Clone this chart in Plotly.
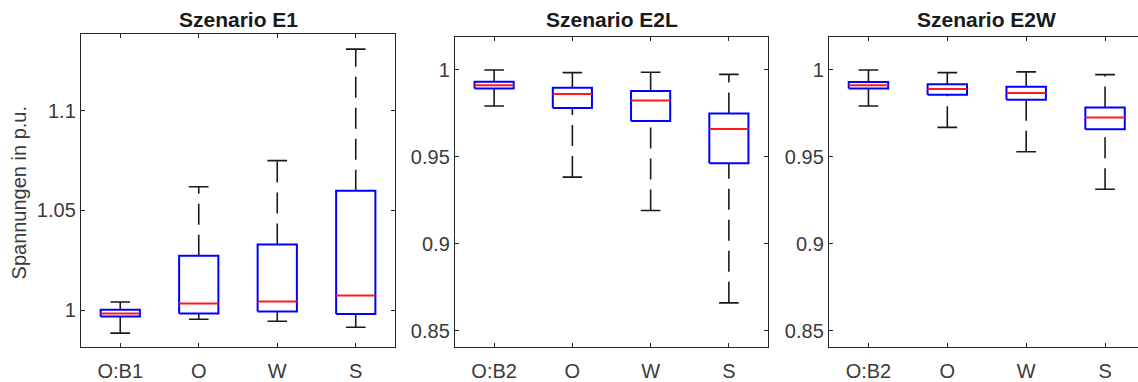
import plotly.graph_objects as go

# ---------------- data ----------------
categories_e1 = ["O:B1", "O", "W", "S"]
categories_e2 = ["O:B2", "O", "W", "S"]

e1_lower = [0.9884, 0.9954, 0.9944, 0.9914]
e1_q1 = [0.9968, 0.9983, 0.9993, 0.9980]
e1_median = [0.9983, 1.0033, 1.0043, 1.0073]
e1_q3 = [1.0002, 1.0272, 1.0328, 1.0598]
e1_upper = [1.0040, 1.0618, 1.0749, 1.1308]

e2l_lower = [0.9793, 0.9384, 0.9192, 0.8661]
e2l_q1 = [0.9894, 0.9782, 0.9706, 0.9463]
e2l_median = [0.9912, 0.9862, 0.9824, 0.9660]
e2l_q3 = [0.9932, 0.9898, 0.9879, 0.9750]
e2l_upper = [1.0000, 0.9985, 0.9987, 0.9975]

e2w_lower = [0.9793, 0.9670, 0.9530, 0.9314]
e2w_q1 = [0.9894, 0.9858, 0.9829, 0.9659]
e2w_median = [0.9912, 0.9890, 0.9867, 0.9727]
e2w_q3 = [0.9931, 0.9918, 0.9903, 0.9784]
e2w_upper = [1.0000, 0.9985, 0.9989, 0.9973]

titles = ["Szenario E1", "Szenario E2L", "Szenario E2W"]
y_label = "Spannungen in p.u."
e1_yticks = [1.0, 1.05, 1.1]
e1_yticktext = ["1", "1.05", "1.1"]
e2_yticks = [0.85, 0.9, 0.95, 1.0]
e2_yticktext = ["0.85", "0.9", "0.95", "1"]

# ---------------- style ----------------
FONT = "Liberation Sans, Arial, Helvetica, sans-serif"
AX = "#262626"
TXT = "#3a3a3a"
BOX_HALF = 0.25
CAP_HALF = 0.125
DASH = "21px,10px"

W, H = 1138, 382


def px_x(p):
    return p / W


def px_y(p):
    return 1 - p / H


panels = [
    dict(cats=categories_e1, lo=e1_lower, q1=e1_q1, med=e1_median, q3=e1_q3, up=e1_upper,
         dom_x=(81, 395), dom_y=(34.5, 350.5), xr=(0.5, 4.5), yr=(0.98155, 1.1383),
         yt=e1_yticks, ytt=e1_yticktext, mirror_y="ticks"),
    dict(cats=categories_e2, lo=e2l_lower, q1=e2l_q1, med=e2l_median, q3=e2l_q3, up=e2l_upper,
         dom_x=(455, 768), dom_y=(37.5, 350.5), xr=(0.5, 4.5), yr=(0.8408, 1.0189),
         yt=e2_yticks, ytt=e2_yticktext, mirror_y="ticks"),
    dict(cats=categories_e2, lo=e2w_lower, q1=e2w_q1, med=e2w_median, q3=e2w_q3, up=e2w_upper,
         dom_x=(829, 1138), dom_y=(37.5, 350.5), xr=(0.5, 4.5 - 6.5 / 79.0), yr=(0.8408, 1.0189),
         yt=e2_yticks, ytt=e2_yticktext, mirror_y=False),
]

fig = go.Figure()
layout = dict(
    width=W, height=H, margin=dict(l=0, r=0, t=0, b=0),
    paper_bgcolor="white", plot_bgcolor="white", showlegend=False,
    font=dict(family=FONT, size=20, color=TXT),
)
annotations = []

for k, p in enumerate(panels):
    n = "" if k == 0 else str(k + 1)
    xa, ya = "x" + n, "y" + n
    wx, wy, bx, by, mx, my, cx, cy = [], [], [], [], [], [], [], []
    wlx, wly = [], []
    for i in range(len(p["cats"])):
        c = i + 1
        # upper whisker from q3 upward, lower whisker from lower end upward
        wx += [c, c, None]
        wy += [p["q3"][i], p["up"][i], None]
        wlx += [c, c, None]
        wly += [p["lo"][i], p["q1"][i], None]
        cx += [c - CAP_HALF, c + CAP_HALF, None, c - CAP_HALF, c + CAP_HALF, None]
        cy += [p["up"][i], p["up"][i], None, p["lo"][i], p["lo"][i], None]
        bx += [c - BOX_HALF, c + BOX_HALF, c + BOX_HALF, c - BOX_HALF, c - BOX_HALF, None]
        by += [p["q1"][i], p["q1"][i], p["q3"][i], p["q3"][i], p["q1"][i], None]
        mx += [c - BOX_HALF, c + BOX_HALF, None]
        my += [p["med"][i], p["med"][i], None]
    common = dict(xaxis=xa, yaxis=ya, mode="lines", hoverinfo="skip")
    fig.add_trace(go.Scatter(x=wx, y=wy, line=dict(color="#1a1a1a", width=1.6, dash=DASH), **common))
    fig.add_trace(go.Scatter(x=wlx, y=wly, line=dict(color="#1a1a1a", width=1.6, dash=DASH), **common))
    fig.add_trace(go.Scatter(x=cx, y=cy, line=dict(color="#1a1a1a", width=1.6), **common))
    fig.add_trace(go.Scatter(x=bx, y=by, line=dict(color="#0000ff", width=2), **common))
    fig.add_trace(go.Scatter(x=mx, y=my, line=dict(color="#ff1a1a", width=2), **common))

    xkey = "xaxis" + n
    ykey = "yaxis" + n
    layout[xkey] = dict(
        domain=[px_x(p["dom_x"][0]), px_x(p["dom_x"][1])], anchor=ya, range=list(p["xr"]),
        tickvals=[1, 2, 3, 4], ticktext=p["cats"], ticks="inside", ticklen=4, tickwidth=1,
        tickcolor=AX, showline=True, linecolor=AX, linewidth=1.4, mirror="ticks",
        showgrid=False, zeroline=False, tickfont=dict(size=20, color=TXT, family=FONT),
        ticklabelstandoff=6,
    )
    layout[ykey] = dict(
        domain=[px_y(p["dom_y"][1]), px_y(p["dom_y"][0])], anchor=xa, range=list(p["yr"]),
        tickvals=p["yt"], ticktext=p["ytt"], ticks="inside", ticklen=4, tickwidth=1,
        tickcolor=AX, showline=True, linecolor=AX, linewidth=1.4, mirror=p["mirror_y"],
        showgrid=False, zeroline=False, tickfont=dict(size=20, color=TXT, family=FONT),
    )
    annotations.append(dict(
        text=titles[k], xref=xa, x=2.5, yref="paper", y=px_y(19.5), xanchor="center",
        yanchor="middle", showarrow=False,
        font=dict(family=FONT, size=21, color="#1a1a1a", weight="bold"),
    ))

annotations.append(dict(
    text=y_label, xref="paper", x=px_x(18.5), yref="paper", y=px_y(195), textangle=-90,
    xanchor="center", yanchor="middle", showarrow=False,
    font=dict(family=FONT, size=20, color=TXT),
))
layout["annotations"] = annotations
fig.update_layout(**layout)
fig.write_html("out.html")
